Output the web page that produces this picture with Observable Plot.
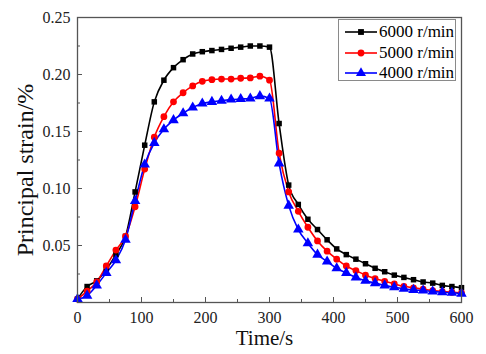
<!DOCTYPE html>
<html>
<head>
<meta charset="utf-8">
<script src="https://cdn.jsdelivr.net/npm/d3@7"></script>
<script src="https://cdn.jsdelivr.net/npm/@observablehq/plot@0.6"></script>
<style>
  html, body { margin: 0; padding: 0; background: #fff; }
  #wrap { position: relative; width: 486px; height: 354px; overflow: hidden; }
  #wrap svg text { font-family: "Liberation Serif", "Tinos", "Times New Roman", "DejaVu Serif", serif; }
  #legend { position: absolute; left: 338px; top: 19px; width: 118px; height: 62px;
            border: 1px solid #8a8a8a; background: #fff; box-sizing: border-box;
            font-family: "Liberation Serif", "Tinos", "Times New Roman", "DejaVu Serif", serif; font-size: 17px; }
  .row { position: absolute; left: 0; height: 20px; display: flex; align-items: center; }
  .row svg { display: block; margin-left: 6px; }
  .row span { margin-left: 2px; line-height: 20px; white-space: nowrap; }
</style>
</head>
<body>
<div id="wrap"></div>
<script>
const times = [0,15,30,45,60,75,90,105,120,135,150,165,180,195,210,225,240,255,270,285,300,
               315,330,345,360,375,390,405,420,435,450,465,480,495,510,525,540,555,570,585,600];
const s6000 = [0.003,0.014,0.019,0.029,0.042,0.058,0.097,0.138,0.176,0.195,0.206,0.213,0.218,0.220,0.221,0.222,0.223,0.224,0.225,0.225,0.224,
               0.157,0.103,0.086,0.073,0.064,0.055,0.047,0.042,0.038,0.034,0.030,0.027,0.024,0.022,0.020,0.018,0.017,0.015,0.014,0.013];
const s5000 = [0.003,0.010,0.018,0.032,0.046,0.058,0.084,0.117,0.145,0.163,0.176,0.184,0.190,0.194,0.1955,0.196,0.196,0.1967,0.197,0.1985,0.195,
               0.131,0.097,0.080,0.066,0.054,0.045,0.038,0.032,0.028,0.024,0.021,0.0186,0.0163,0.0142,0.0128,0.0116,0.0105,0.0096,0.009,0.0085];
const s4000 = [0.003,0.006,0.015,0.026,0.037,0.055,0.089,0.121,0.140,0.152,0.160,0.166,0.171,0.1745,0.176,0.177,0.178,0.1785,0.179,0.181,0.179,
               0.122,0.085,0.064,0.052,0.042,0.036,0.030,0.026,0.022,0.019,0.017,0.015,0.0134,0.0121,0.0111,0.0105,0.0096,0.009,0.0085,0.0078];
const seriesNames = ["6000 r/min", "5000 r/min", "4000 r/min"];
const seriesColors = ["#000000", "#ff0000", "#0000ff"];
const seriesSymbols = ["square", "circle", "triangle"];
const xTicks = [0,100,200,300,400,500,600];
const xMinor = [50,150,250,350,450,550];
const yTicks = [0.05,0.10,0.15,0.20,0.25];
const yMinor = [0.025,0.075,0.125,0.175,0.225];
const xTitle = ["Time/s"];
const yTitle = ["Principal strain/%"];

const allSeries = [s6000, s5000, s4000];
const rows = [];
allSeries.forEach((vals, si) => times.forEach((t, i) => rows.push({t, v: vals[i], s: seriesNames[si]})));

const marks = [];
allSeries.forEach((vals, si) => {
  const d = rows.filter(r => r.s === seriesNames[si]);
  marks.push(Plot.line(d, {x: "t", y: "v", stroke: seriesColors[si], strokeWidth: 1.6, curve: "monotone-x"}));
});
allSeries.forEach((vals, si) => {
  const d = rows.filter(r => r.s === seriesNames[si]);
  const r = si === 0 ? 3.1 : si === 1 ? 3.4 : 3.9;
  marks.push(Plot.dot(d, {x: "t", y: "v", fill: seriesColors[si], stroke: "none", symbol: () => seriesSymbols[si], r}));
});

const serif = "'Liberation Serif', 'Tinos', 'Times New Roman', 'DejaVu Serif', serif";
const plot = Plot.plot({
  width: 486,
  height: 354,
  marginLeft: 77,
  marginRight: 25,
  marginTop: 17,
  marginBottom: 52,
  style: {fontFamily: serif, fontSize: "16px", background: "#fff", color: "#222"},
  x: {domain: [0, 600]},
  y: {domain: [0, 0.25]},
  symbol: {domain: seriesSymbols, range: seriesSymbols},
  marks: [
    ...marks,
    Plot.frame({stroke: "#555", strokeWidth: 1.3}),
    Plot.axisX({ticks: xTicks, tickSize: 0, tickPadding: 9, tickFormat: d => String(d), label: null, fill: "#222", fontFamily: serif}),
    Plot.axisX({ticks: xTicks, tickSize: 5, dy: -5, text: null, label: null, stroke: "#555"}),
    Plot.axisX({ticks: xMinor, tickSize: 3, dy: -3, text: null, label: null, stroke: "#555"}),
    Plot.axisY({ticks: yTicks, tickSize: 0, tickPadding: 7, tickFormat: d3.format(".2f"), label: null, fill: "#222", fontFamily: serif}),
    Plot.axisY({ticks: yTicks, tickSize: 5, dx: 5, text: null, label: null, stroke: "#555"}),
    Plot.axisY({ticks: yMinor, tickSize: 3, dx: 3, text: null, label: null, stroke: "#555"}),
    Plot.text(xTitle, {text: d => d, frameAnchor: "bottom", dx: -5, dy: 36, lineAnchor: "middle", textAnchor: "middle", fontSize: 21, fill: "#111", fontFamily: serif}),
    Plot.text(yTitle, {text: d => d, frameAnchor: "left", textAnchor: "middle", lineAnchor: "middle", rotate: -90, dx: -52, dy: 10, fontSize: 24, fill: "#111", fontFamily: serif})
  ]
});
const wrap = document.getElementById("wrap");
wrap.appendChild(plot);

// legend overlay
const legend = document.createElement("div");
legend.id = "legend";
const rowTops = [2, 22.5, 42.5];
seriesNames.forEach((name, i) => {
  const row = document.createElement("div");
  row.className = "row";
  row.style.top = rowTops[i] + "px";
  const svg = d3.create("svg").attr("width", 32).attr("height", 20);
  svg.append("line").attr("x1", 0).attr("x2", 32).attr("y1", 10).attr("y2", 10)
     .attr("stroke", seriesColors[i]).attr("stroke-width", 1.6);
  const sym = d3.symbol().type(i === 0 ? d3.symbolSquare : i === 1 ? d3.symbolCircle : d3.symbolTriangle)
     .size(i === 0 ? 34 : i === 1 ? 36 : 44);
  svg.append("path").attr("d", sym()).attr("transform", "translate(16,10)").attr("fill", seriesColors[i]);
  row.appendChild(svg.node());
  const span = document.createElement("span");
  span.textContent = name;
  row.appendChild(span);
  legend.appendChild(row);
});
wrap.appendChild(legend);
</script>
</body>
</html>
